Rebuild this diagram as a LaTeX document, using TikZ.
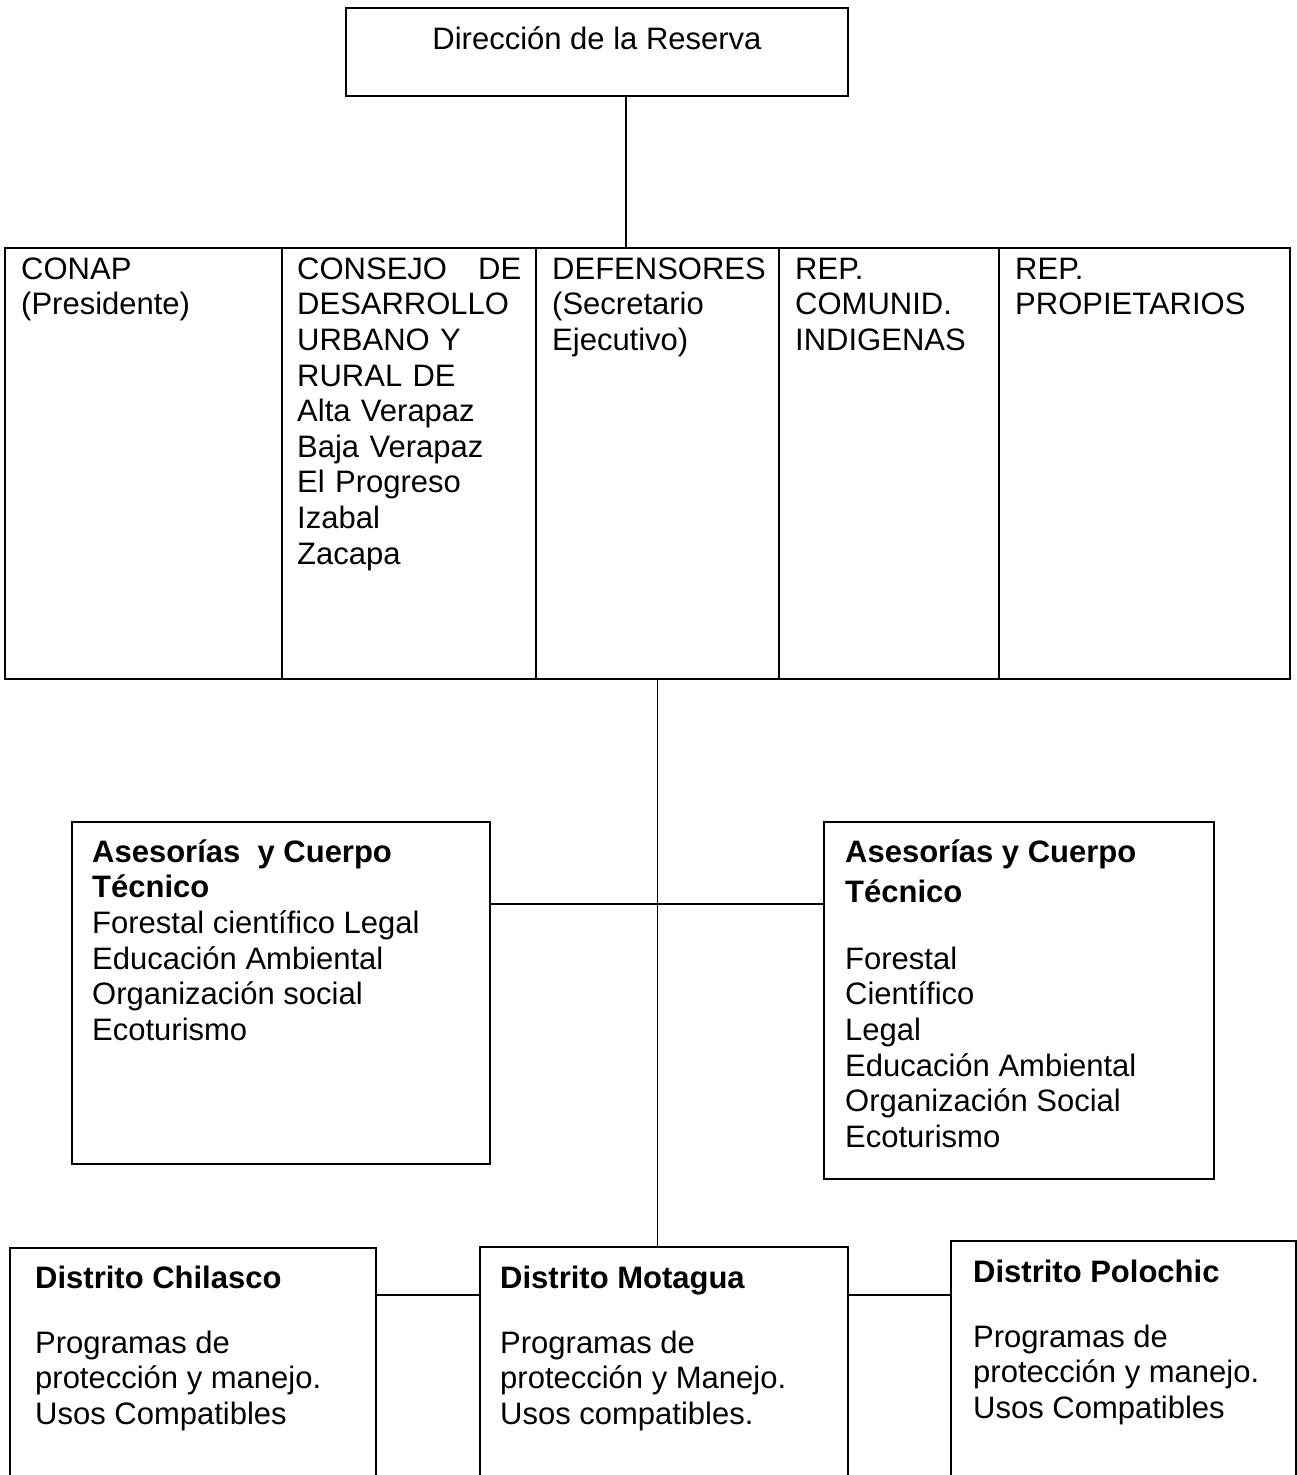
\documentclass[tikz,border=0pt]{standalone}
\usepackage{fontspec}
\setmainfont{Liberation Sans}
\usetikzlibrary{positioning}
\newcommand{\fstrut}{\rule{0pt}{27pt}}

\begin{document}
\begin{tikzpicture}[x=1pt, y=-1pt,
  box/.style={draw, line width=1.7pt, inner sep=0pt, outer sep=0pt},
  cell/.style={draw, line width=2.4pt, inner sep=0pt, outer sep=0pt, minimum height=431pt},
  txt/.style={anchor=north west, inner sep=0pt, align=left, font=\fontsize{31pt}{35.6pt}\selectfont},
  link/.style={line width=1.5pt}
]
\useasboundingbox (0,0) rectangle (1297,1475);
\clip (0,0) rectangle (1297,1475);

% Top
\node[box, minimum width=502pt, minimum height=88pt] (dir) at (597,52) {};
\node[txt, below=14pt of dir.north] (dirt) {\fstrut Dirección de la Reserva};

% Council row
\node[cell, minimum width=277pt] (conap) at (143.5,463.5) {};
\node[cell, minimum width=254pt, right=0pt of conap] (consejo) {};
\node[cell, minimum width=243pt, right=0pt of consejo] (defens) {};
\node[cell, minimum width=220pt, right=0pt of defens] (comun) {};
\node[cell, minimum width=291pt, right=0pt of comun] (prop) {};

\node[txt, below right=4pt and 16pt of conap.north west] (conapt) {\fstrut CONAP\\(Presidente)};
\node[txt, text width=224pt, below right=4pt and 15pt of consejo.north west] (consejot)
  {\fstrut CONSEJO\hfill DE\\DESARROLLO\\URBANO Y\\RURAL DE\\Alta Verapaz\\Baja Verapaz\\El Progreso\\Izabal\\Zacapa};
\node[txt, below right=4pt and 16pt of defens.north west] (defenst) {\fstrut DEFENSORES\\(Secretario\\Ejecutivo)};
\node[txt, below right=4pt and 16pt of comun.north west] (comunt) {\fstrut REP.\\COMUNID.\\INDIGENAS};
\node[txt, below right=4pt and 16pt of prop.north west] (propt) {\fstrut REP.\\PROPIETARIOS};

% Advisory boxes
\node[box, minimum width=418pt, minimum height=342pt] (ase1) at (281,993) {};
\node[box, minimum width=390pt, minimum height=357pt] (ase2) at (1019,1000.5) {};

\node[txt, below right=13pt and 20pt of ase1.north west] (ase1t)
  {\fstrut\textbf{Asesorías\ \ y Cuerpo}\\\textbf{Técnico}\\Forestal científico Legal\\Educación Ambiental\\Organización social\\Ecoturismo};
\node[txt, below right=13pt and 21pt of ase2.north west] (ase2t)
  {\fstrut\textbf{Asesorías y Cuerpo}\\[4.4pt]\textbf{Técnico}\\[31.4pt]Forestal\\Científico\\Legal\\Educación Ambiental\\Organización Social\\Ecoturismo};

% Districts
\node[box, minimum width=366pt, minimum height=252pt] (chil) at (193,1374) {};
\node[box, minimum width=368pt, minimum height=253pt] (mot) at (664,1373.5) {};
\node[box, minimum width=345pt, minimum height=259pt] (pol) at (1123.5,1370.5) {};

\node[txt, below right=13pt and 25pt of chil.north west] (chilt)
  {\fstrut\textbf{Distrito Chilasco}\\[29.4pt]Programas de\\protección y manejo.\\Usos Compatibles};
\node[txt, below right=14pt and 20pt of mot.north west] (mott)
  {\fstrut\textbf{Distrito Motagua}\\[29.4pt]Programas de\\protección y Manejo.\\Usos compatibles.};
\node[txt, below right=14pt and 22pt of pol.north west] (polt)
  {\fstrut\textbf{Distrito Polochic}\\[29.4pt]Programas de\\protección y manejo.\\Usos Compatibles};

% Connections
\draw[link] ([xshift=29pt]dir.south) -- ([xshift=29pt]dir.south |- defens.north);
\draw[link] (defens.south) -- (defens.south |- mot.north);
\draw[link] ([yshift=-82pt]ase1.north east) -- ([yshift=-82pt]ase2.north west);
\draw[link] ([yshift=-47pt]chil.north east) -- ([yshift=-48pt]mot.north west);
\draw[link] ([yshift=-48pt]mot.north east) -- ([yshift=-54pt]pol.north west);

\end{tikzpicture}
\end{document}
